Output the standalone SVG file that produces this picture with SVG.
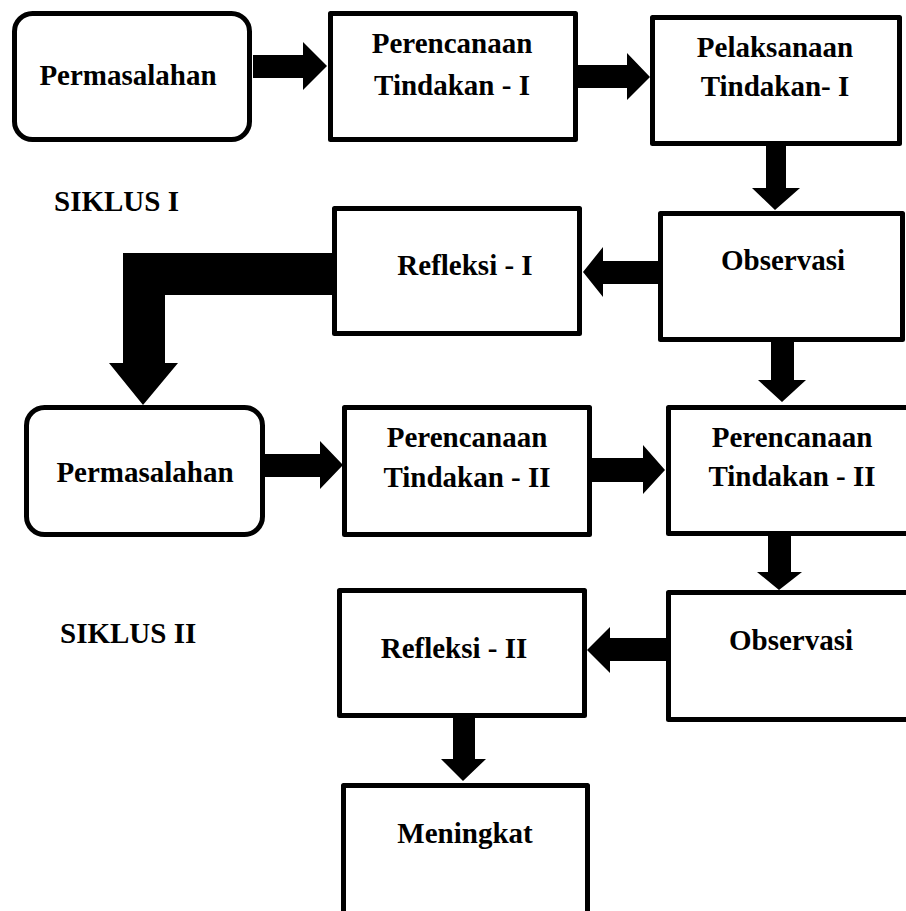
<svg xmlns="http://www.w3.org/2000/svg" width="906" height="911" viewBox="0 0 906 911">
<style>
.box{fill:#fff;stroke:#000;stroke-width:5;stroke-linejoin:round}
.t{font-family:"Liberation Serif","Times New Roman",serif;font-weight:bold;font-size:29px;fill:#000;text-anchor:middle}
.lbl{font-family:"Liberation Serif","Times New Roman",serif;font-weight:bold;font-size:29px;fill:#000}
.arr{fill:#000;stroke:none}
</style>
<rect width="906" height="911" fill="#fff"/>
<g id="connectors">
<polygon class="arr" points="253,55 303,55 303,42 327,66 303,90 303,78 253,78"/>
<polygon class="arr" points="578,65 627,65 627,53 650,77 627,100 627,88 578,88"/>
<polygon class="arr" points="766,146 786,146 786,188 800,188 775,210 752,188 766,188"/>
<polygon class="arr" points="658,261 603,261 603,247 583,272 603,297 603,284 658,284"/>
<polygon class="arr" points="332,253 123,253 123,363 109,363 143,405 178,363 165,363 165,295 332,295"/>
<polygon class="arr" points="771,342 794,342 794,380 806,380 782,402 758,380 771,380"/>
<polygon class="arr" points="265,454 320,454 320,441 343,465 320,489 320,477 265,477"/>
<polygon class="arr" points="592,458 643,458 643,445 665,470 643,494 643,482 592,482"/>
<polygon class="arr" points="768,536 791,536 791,572 802,572 779,590 757,572 768,572"/>
<polygon class="arr" points="666,638 610,638 610,627 587,650 610,673 610,661 666,661"/>
<polygon class="arr" points="453,718 475,718 475,759 486,759 463,781 441,759 453,759"/>
</g>
<g id="permasalahan1">
<rect class="box" x="14.5" y="13.5" width="235" height="126" rx="18"/>
<text class="t" x="128" y="85">Permasalahan</text>
</g>
<g id="perencanaan1">
<rect class="box" x="330.5" y="13.5" width="245" height="126"/>
<text class="t" x="452" y="53">Perencanaan</text>
<text class="t" x="452" y="95">Tindakan - I</text>
</g>
<g id="pelaksanaan1">
<rect class="box" x="652.5" y="17.5" width="247" height="126"/>
<text class="t" x="775" y="57">Pelaksanaan</text>
<text class="t" x="775" y="96">Tindakan- I</text>
</g>
<g id="siklus1">
<text class="lbl" x="54" y="211">SIKLUS I</text>
</g>
<g id="observasi1">
<rect class="box" x="660.5" y="213.5" width="242" height="126"/>
<text class="t" x="783" y="270">Observasi</text>
</g>
<g id="refleksi1">
<rect class="box" x="334.5" y="208.5" width="245" height="125"/>
<text class="t" x="465" y="275">Refleksi - I</text>
</g>
<g id="permasalahan2">
<rect class="box" x="26.5" y="407.5" width="236" height="127" rx="18"/>
<text class="t" x="145" y="482">Permasalahan</text>
</g>
<g id="perencanaan2a">
<rect class="box" x="344.5" y="407.5" width="245" height="127"/>
<text class="t" x="467" y="447">Perencanaan</text>
<text class="t" x="467" y="487">Tindakan - II</text>
</g>
<g id="perencanaan2b">
<rect class="box" x="668.5" y="407.5" width="260" height="126"/>
<text class="t" x="792" y="447">Perencanaan</text>
<text class="t" x="792" y="486">Tindakan - II</text>
</g>
<g id="siklus2">
<text class="lbl" x="60" y="643">SIKLUS II</text>
</g>
<g id="observasi2">
<rect class="box" x="668.5" y="592.5" width="260" height="127"/>
<text class="t" x="791" y="650">Observasi</text>
</g>
<g id="refleksi2">
<rect class="box" x="339.5" y="590.5" width="245" height="125"/>
<text class="t" x="454" y="658">Refleksi - II</text>
</g>
<g id="meningkat">
<rect class="box" x="343.5" y="785.5" width="244" height="140"/>
<text class="t" x="465" y="843">Meningkat</text>
</g>
</svg>
